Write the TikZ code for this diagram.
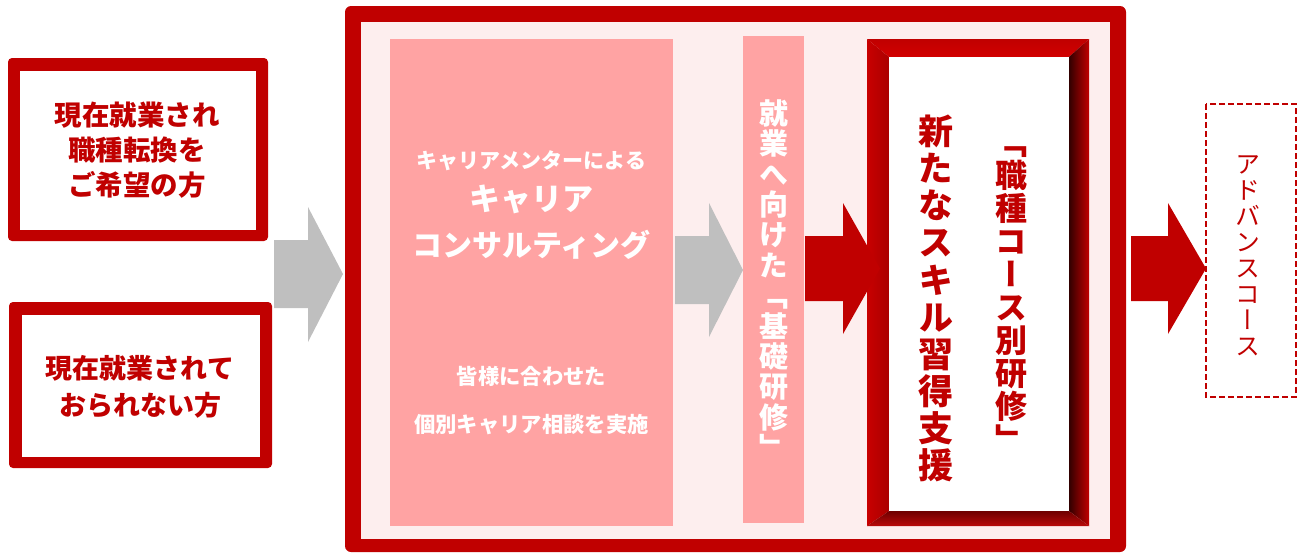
\documentclass[tikz,border=0pt]{standalone}
\usepackage{fontspec}
\newfontfamily\jp{Noto Sans CJK JP}
\newfontfamily\jpv[RawFeature=+vert]{Noto Sans CJK JP}
\definecolor{dred}{HTML}{C00000}
\definecolor{cfill}{HTML}{FDEEEE}
\definecolor{cpink}{HTML}{FFA3A3}
\definecolor{agray}{HTML}{BFBFBF}
\tikzset{
  redtext/.style={text=dred, align=center, inner sep=0pt},
  whitetext/.style={text=white, align=center, inner sep=0pt},
  vtext/.style={align=center, inner sep=0pt},
}
\begin{document}
\begin{tikzpicture}[x=1pt,y=-1pt]
\useasboundingbox (0,0) rectangle (1306,552);
% left boxes
\fill[dred, rounded corners=4] (8,58) rectangle (268,241);
\fill[white] (20,71) rectangle (256,230);
\node[redtext, font=\jp\bfseries\fontsize{27.5}{35}\selectfont] (who1) at (137,150) {現在就業され\\職種転換を\\ご希望の方};
\fill[dred, rounded corners=4] (9,302) rectangle (272,468);
\fill[white] (22,315) rectangle (260,457);
\node[redtext, font=\jp\bfseries\fontsize{27}{37}\selectfont] (who2) at (140,386.5) {現在就業されて\\おられない方};
% gray arrow 1
\fill[agray] (274,240) -- (308,240) -- (308,207) -- (343,274) -- (308,342) -- (308,308) -- (274,308) -- cycle;
% container
\fill[dred, rounded corners=6] (345,6) rectangle (1126,552);
\fill[cfill] (361,22) rectangle (1110,539);
% consulting
\fill[cpink] (390,39) rectangle (673,526);
\node[whitetext, font=\jp\bfseries\fontsize{21}{25}\selectfont] (c1) at (531.5,161) {キャリアメンターによる};
\node[whitetext, font=\jp\bfseries\fontsize{31}{36}\selectfont] (c2) at (531.5,199) {キャリア};
\node[whitetext, font=\jp\bfseries\fontsize{30}{36}\selectfont] (c3) at (531.5,245) {コンサルティング};
\node[whitetext, font=\jp\bfseries\fontsize{21.3}{48}\selectfont] (c4) at (531.5,401) {皆様に合わせた\\個別キャリア相談を実施};
% gray arrow 2
\fill[agray] (675,236) -- (709,236) -- (709,203) -- (743,270) -- (709,337) -- (709,304) -- (675,304) -- cycle;
% basic training strip
\fill[cpink] (743,36) rectangle (804,523);
\node[vtext, text=white, font=\jpv\bfseries\fontsize{29}{30.4}\selectfont] (basic) at (773.5,279) {就\\業\\へ\\向\\け\\た\\「\\基\\礎\\研\\修\\」};
% bevel frame
\shade[top color=dred, middle color={rgb,255:red,255;green,45;blue,45}, bottom color={rgb,255:red,210;green,0;blue,0}]
  (867,39) -- (1089,39) -- (1069,57) -- (889,57) -- cycle;
\shade[left color={rgb,255:red,200;green,0;blue,0}, right color={rgb,255:red,170;green,0;blue,0}]
  (867,39) -- (889,57) -- (889,511) -- (867,526) -- cycle;
\shade[left color={rgb,255:red,50;green,0;blue,0}, right color=dred]
  (1089,39) -- (1089,526) -- (1069,511) -- (1069,57) -- cycle;
\shade[top color={rgb,255:red,110;green,0;blue,0}, bottom color={rgb,255:red,185;green,10;blue,10}]
  (867,526) -- (889,511) -- (1069,511) -- (1089,526) -- cycle;
\fill[white] (889,57) rectangle (1069,511);
\node[vtext, text=dred, font=\jpv\bfseries\fontsize{35}{37.1}\selectfont] (skill) at (935.5,298.5) {新\\た\\な\\ス\\キ\\ル\\習\\得\\支\\援};
\node[vtext, text=dred, font=\jpv\bfseries\fontsize{32}{33}\selectfont] (course) at (1011,299) {「\\職\\種\\コ\\ー\\ス\\別\\研\\修\\」};
% red arrow 3
\fill[dred] (805,236) -- (843,236) -- (843,203) -- (880,268.5) -- (843,334) -- (843,301) -- (805,301) -- cycle;
% red arrow 4
\fill[dred] (1131,236) -- (1168,236) -- (1168,203) -- (1206,268.5) -- (1168,334) -- (1168,301) -- (1131,301) -- cycle;
% advanced
\draw[dred, line width=2, dash pattern=on 6 off 3] (1206,104) rectangle (1296,397);
\node[vtext, text=dred, font=\jpv\fontsize{25}{26}\selectfont] (adv) at (1248,255.5) {ア\\ド\\バ\\ン\\ス\\コ\\ー\\ス};
\end{tikzpicture}
\end{document}
